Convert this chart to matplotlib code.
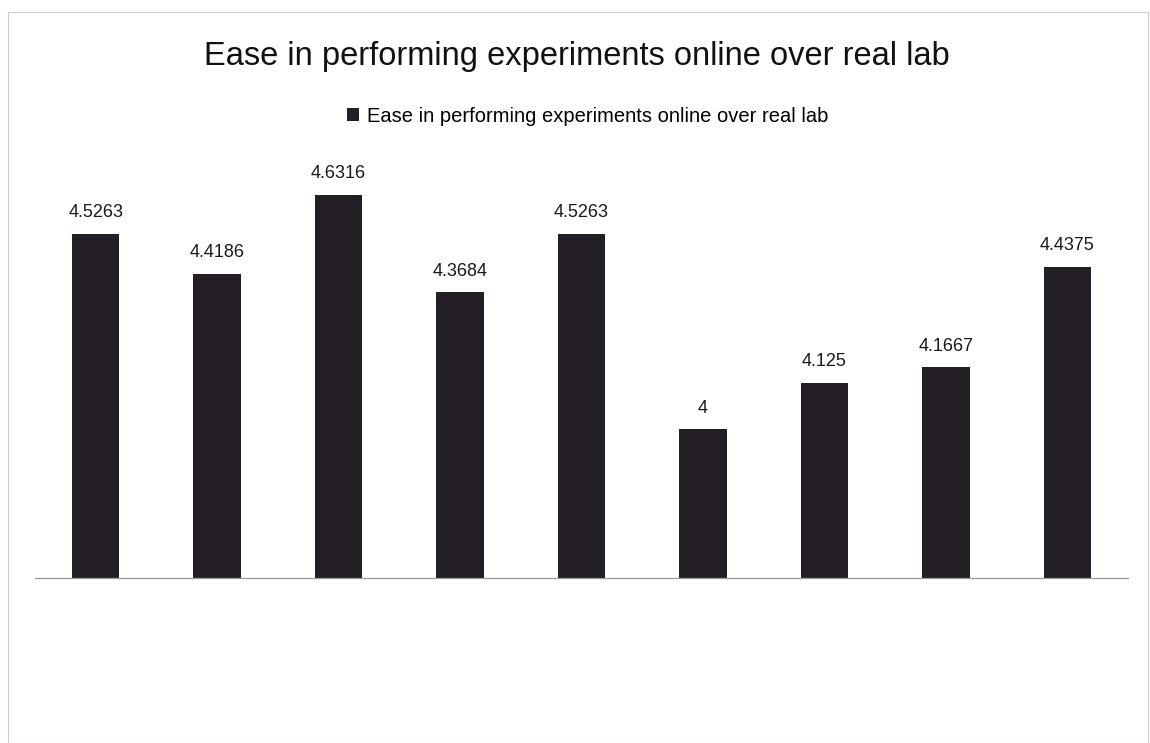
import matplotlib
matplotlib.use("Agg")
import matplotlib.pyplot as plt
from matplotlib.patches import Rectangle

plt.rcParams["font.family"] = ["Liberation Sans", "DejaVu Sans"]

# data
categories = ["1", "2", "3", "4", "5", "6", "7", "8", "9"]
values = [4.5263, 4.4186, 4.6316, 4.3684, 4.5263, 4.0, 4.125, 4.1667, 4.4375]
labels = ["4.5263", "4.4186", "4.6316", "4.3684", "4.5263", "4", "4.125", "4.1667", "4.4375"]
series = "Ease in performing experiments online over real lab"
title = "Ease in performing experiments online over real lab"

bar_col = "#241f27"
fig = plt.figure(figsize=(11.5, 7.43), dpi=100)
fig.patch.set_facecolor("white")

# chart frame (thin grey border of the office chart)
fig.patches.append(Rectangle((8 / 1150, 0), 1140 / 1150, 731 / 743,
                             transform=fig.transFigure, fill=False,
                             edgecolor="#cccccc", lw=0.8))

ax = fig.add_axes([35 / 1150, 165 / 743, 1093 / 1150, 446 / 743])
x = range(len(values))
bars = ax.bar(x, values, width=0.39, color=bar_col, label=series, zorder=2)
ax.set_xlim(-0.5, len(values) - 0.5)
ax.set_ylim(3.6, 4.8)

for xi, v, t in zip(x, values, labels):
    ax.annotate(t, (xi, v), xytext=(0, 9), textcoords="offset points",
                ha="center", va="bottom", fontsize=13, color="#1a1a1a")

for s in ["top", "right", "left"]:
    ax.spines[s].set_visible(False)
ax.spines["bottom"].set_color("#9a9a9a")
ax.spines["bottom"].set_linewidth(0.9)
ax.set_xticks([])
ax.set_yticks([])

fig.text(0.502, 1 - 56 / 743, title, ha="center", va="center",
         fontsize=23.5, color="#111111")

leg = fig.legend(handles=[bars], labels=[series], loc="center",
                 bbox_to_anchor=(0.511, 1 - 116 / 743), frameon=False,
                 fontsize=14.5, handlelength=0.6, handleheight=0.6,
                 handletextpad=0.4)

fig.savefig("out.png", dpi=100, facecolor="white")
